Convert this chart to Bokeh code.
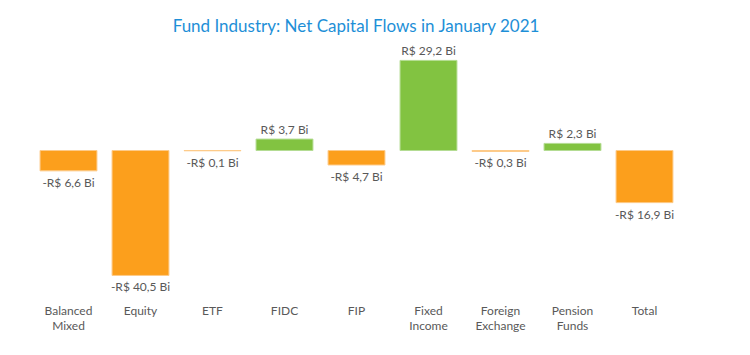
from bokeh.plotting import figure
from bokeh.models import ColumnDataSource, Range1d, FactorRange
from bokeh.core.properties import value
from bokeh.embed import file_html
from bokeh.resources import INLINE

categories = ["Balanced Mixed", "Equity", "ETF", "FIDC", "FIP", "Fixed Income",
              "Foreign Exchange", "Pension Funds", "Total"]
tick_labels = ["Balanced\nMixed", "Equity", "ETF", "FIDC", "FIP", "Fixed\nIncome",
               "Foreign\nExchange", "Pension\nFunds", "Total"]
flows = [-6.6, -40.5, -0.1, 3.7, -4.7, 29.2, -0.3, 2.3, -16.9]

POS = "#82C341"
NEG = "#FC9F1C"
POS_EDGE = "#B4DC93"
NEG_EDGE = "#FDCB8A"
FONT = "Lato"
GRAY = "#595959"

def fmt(v):
    s = f"{abs(v):.1f}".replace(".", ",")
    return ("-" if v < 0 else "") + "R$ " + s + " Bi"

FRAME_TOP = 45
ZERO_Y = 150
FIG_H = 355
px = 250 / 81.04  # pixels per unit
y_top = (ZERO_Y - FRAME_TOP) / px
y_bot = -(FIG_H - ZERO_Y) / px

src = ColumnDataSource(dict(
    cat=categories,
    val=flows,
    fill=[POS if v >= 0 else NEG for v in flows],
    edge=[POS_EDGE if v >= 0 else NEG_EDGE for v in flows],
))
pos_src = ColumnDataSource(dict(
    cat=[c for c, v in zip(categories, flows) if v >= 0],
    y=[v + 2 / px for v in flows if v >= 0],
    txt=[fmt(v) for v in flows if v >= 0],
))
neg_src = ColumnDataSource(dict(
    cat=[c for c, v in zip(categories, flows) if v < 0],
    y=[v - 4 / px for v in flows if v < 0],
    txt=[fmt(v) for v in flows if v < 0],
))
line1 = [t.split("\n")[0] for t in tick_labels]
line2 = [t.split("\n")[1] if "\n" in t else "" for t in tick_labels]
cat_src = ColumnDataSource(dict(
    cat=categories,
    y1=[-(310 - ZERO_Y) / px] * len(categories),
    y2=[-(325 - ZERO_Y) / px] * len(categories),
    l1=line1, l2=line2,
))

p = figure(width=750, height=FIG_H, x_range=FactorRange(*categories, range_padding=0),
           y_range=Range1d(y_bot, y_top), output_backend="svg", toolbar_location=None,
           title="Fund Industry: Net Capital Flows in January 2021",
           min_border_left=32, min_border_right=70, min_border_top=FRAME_TOP,
           min_border_bottom=0)

p.vbar(x="cat", top="val", bottom=0, width=0.79, source=src,
       fill_color="fill", line_color="edge", line_width=1)

p.text(x="cat", y="y", text="txt", source=pos_src, text_align="center",
       text_baseline="bottom", text_font=value(FONT), text_font_size="12px", text_color=GRAY)
p.text(x="cat", y="y", text="txt", source=neg_src, text_align="center",
       text_baseline="top", text_font=value(FONT), text_font_size="12px", text_color=GRAY)
p.text(x="cat", y="y1", text="l1", source=cat_src, text_align="center",
       text_baseline="middle", text_font=value(FONT), text_font_size="12px", text_color=GRAY)
p.text(x="cat", y="y2", text="l2", source=cat_src, text_align="center",
       text_baseline="middle", text_font=value(FONT), text_font_size="12px", text_color=GRAY)

p.title.align = "center"
p.title.text_font = FONT
p.title.text_font_size = "17px"
p.title.text_font_style = "normal"
p.title.text_color = "#1E8FD7"
p.title.standoff = 20

p.xaxis.visible = False
p.yaxis.visible = False
p.xgrid.grid_line_color = None
p.ygrid.grid_line_color = None
p.outline_line_color = None

open("out.html", "w").write(file_html(p, INLINE))
